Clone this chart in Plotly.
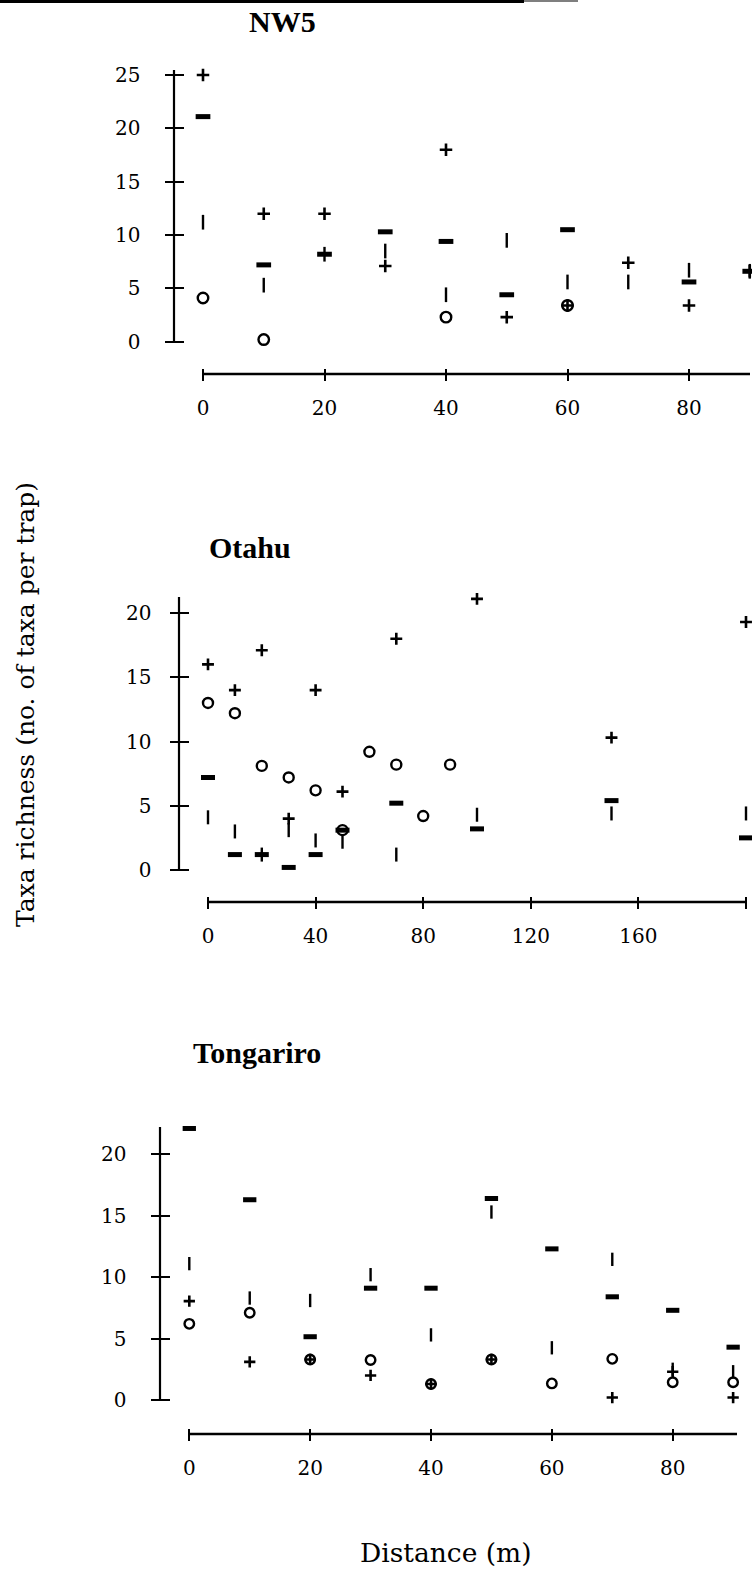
import plotly.graph_objects as go

# ---------------- data ----------------
nw5_x = [0, 10, 20, 30, 40, 50, 60, 70, 80, 90]
nw5_circle = [4.1, 0.2, None, None, 2.3, None, 3.4, None, None, None]
nw5_plus = [25, 12, 12, 7.1, 18, 2.3, 3.4, 7.4, 3.4, 6.6]
nw5_dash = [21.1, 7.2, 8.2, 10.3, 9.4, 4.4, 10.5, None, 5.6, 6.6]
nw5_vbar = [11.2, 5.3, 8.2, 8.5, 4.4, 9.5, 5.6, 5.6, 6.7, 6.6]

ota_x = [0, 10, 20, 30, 40, 50, 60, 70, 80, 90, 100, 150, 200]
ota_circle = [13.0, 12.2, 8.1, 7.2, 6.2, 3.1, 9.2, 8.2, 4.2, 8.2, None, None, None]
ota_plus = [16.0, 14.0, 17.1, 4.0, 14.0, 6.1, None, 18.0, None, None, 21.1, 10.3, 19.3]
ota_dash = [7.2, 1.2, 1.2, 0.2, 1.2, 3.1, None, 5.2, None, None, 3.2, 5.4, 2.5]
ota_vbar = [4.1, 3.0, 1.2, 3.1, 2.3, 2.2, None, 1.2, None, None, 4.3, 4.4, 4.4]

ton_x = [0, 10, 20, 30, 40, 50, 60, 70, 80, 90]
ton_circle = [6.2, 7.1, 3.3, 3.25, 1.3, 3.3, 1.35, 3.35, 1.45, 1.45]
ton_plus = [8.05, 3.1, 3.3, 2.0, 1.3, 3.3, None, 0.2, 2.3, 0.2]
ton_dash = [22.1, 16.3, 5.15, 9.1, 9.1, 16.4, 12.3, 8.4, 7.3, 4.3]
ton_vbar = [11.1, 8.3, 8.1, 10.2, 5.3, 15.3, 4.25, 11.45, 2.5, 2.3]

panel_titles = ["NW5", "Otahu", "Tongariro"]
nw5_xticks = [0, 20, 40, 60, 80]
ota_xticks = [0, 40, 80, 120, 160, 200]
ota_xticktext = ["0", "40", "80", "120", "160", ""]
ton_xticks = [0, 20, 40, 60, 80]
nw5_yticks = [0, 5, 10, 15, 20, 25]
ota_yticks = [0, 5, 10, 15, 20]
ton_yticks = [0, 5, 10, 15, 20]
y_title = "Taxa richness (no. of taxa per trap)"
x_title = "Distance (m)"

W, H = 752, 1574
def px(v): return v / W          # pixel -> paper x
def py(v): return 1 - v / H      # pixel -> paper y

TICKFONT = dict(family="DejaVu Serif", size=20, color="black")
XT_HALF, YT_HALF = 6, 9.5   # half lengths of the crossing tick marks

fig = go.Figure()

def add_series(xs, circ, plus, dash, vbar, xa, ya, scale=1.0):
    common = dict(mode="markers", xaxis=xa, yaxis=ya, showlegend=False,
                  cliponaxis=False, hoverinfo="x+y")
    fig.add_trace(go.Scatter(x=xs, y=circ, marker=dict(symbol="circle-open", size=10*scale,
                  color="black", line=dict(width=2.4, color="black")), **common))
    fig.add_trace(go.Scatter(x=xs, y=plus, marker=dict(symbol="cross-thin", size=8.5*scale,
                  color="black", line=dict(width=2.6, color="black")), **common))
    fig.add_trace(go.Scatter(x=xs, y=dash, marker=dict(symbol="line-ew", size=10*scale,
                  color="black", line=dict(width=5, color="black")), **common))
    fig.add_trace(go.Scatter(x=xs, y=vbar, marker=dict(symbol="line-ns", size=10*scale,
                  color="black", line=dict(width=2.4, color="black")), **common))

panels = [
    dict(xs=nw5_x, c=nw5_circle, p=nw5_plus, d=nw5_dash, v=nw5_vbar,
         xdom=[203, 750], xrange=[0, 90.04], xpos=374,
         ydom=[343, 70], yrange=[-0.122, 25.47], ypos=174,
         xticks=nw5_xticks, xtext=[str(t) for t in nw5_xticks], xstand=10,
         yticks=nw5_yticks, ystand=20, scale=1.05),
    dict(xs=ota_x, c=ota_circle, p=ota_plus, d=ota_dash, v=ota_vbar,
         xdom=[208, 746], xrange=[0, 200], xpos=902,
         ydom=[871, 597], yrange=[-0.078, 21.245], ypos=179,
         xticks=ota_xticks, xtext=ota_xticktext, xstand=10,
         yticks=ota_yticks, ystand=14, scale=1.0),
    dict(xs=ton_x, c=ton_circle, p=ton_plus, d=ton_dash, v=ton_vbar,
         xdom=[189.3, 737], xrange=[0, 90.64], xpos=1434,
         ydom=[1401, 1127], yrange=[-0.081, 22.22], ypos=160,
         xticks=ton_xticks, xtext=[str(t) for t in ton_xticks], xstand=10,
         yticks=ton_yticks, ystand=20, scale=0.95),
]

def aid(n):
    return "" if n == 1 else str(n)

layout = {}
shapes = []
for i, P in enumerate(panels):
    k = i + 1
    xa, ya = "x" + aid(k), "y" + aid(k)
    add_series(P["xs"], P["c"], P["p"], P["d"], P["v"], xa, ya, P["scale"])
    xdom = [px(P["xdom"][0]), min(1.0, px(P["xdom"][1]))]
    ydom = [py(P["ydom"][0]), py(P["ydom"][1])]
    # axis placed half a tick above / right of its drawn line so the ticks cross the line
    layout["xaxis" + aid(k)] = dict(
        domain=xdom, range=P["xrange"], anchor="free", position=py(P["xpos"] - XT_HALF),
        showgrid=False, zeroline=False, showline=False, fixedrange=True, automargin=False,
        tickmode="array", tickvals=P["xticks"], ticktext=P["xtext"],
        ticks="outside", ticklen=2 * XT_HALF, tickwidth=2, tickcolor="black",
        tickfont=TICKFONT, ticklabelstandoff=P["xstand"])
    layout["yaxis" + aid(k)] = dict(
        domain=ydom, range=P["yrange"], anchor="free", position=px(P["ypos"] + YT_HALF),
        showgrid=False, zeroline=False, showline=False, fixedrange=True, automargin=False,
        tickmode="array", tickvals=P["yticks"], ticktext=[str(t) for t in P["yticks"]],
        ticks="outside", ticklen=2 * YT_HALF, tickwidth=2, tickcolor="black",
        tickfont=TICKFONT, ticklabelstandoff=P["ystand"])
    # the axis lines themselves
    shapes.append(dict(type="line", xref=f"{xa} domain", yref="paper", x0=0, x1=1,
                       y0=py(P["xpos"]), y1=py(P["xpos"]),
                       line=dict(color="black", width=2.6), layer="below"))
    shapes.append(dict(type="line", xref="paper", yref=f"{ya} domain", y0=0, y1=1,
                       x0=px(P["ypos"]), x1=px(P["ypos"]),
                       line=dict(color="black", width=2.2), layer="below"))

annotations = [
    dict(text="<b>NW5</b>", x=px(282), y=py(22)),
    dict(text="<b>Otahu</b>", x=px(250), y=py(548)),
    dict(text="<b>Tongariro</b>", x=px(257), y=py(1052)),
]
for an in annotations:
    an.update(xref="paper", yref="paper", showarrow=False, xanchor="center", yanchor="middle",
              font=dict(family="Liberation Serif", size=30, color="black"))
annotations.append(dict(text=y_title, x=px(25), y=py(705), xref="paper", yref="paper",
                        showarrow=False, textangle=-90, xanchor="center", yanchor="middle",
                        font=dict(family="DejaVu Serif", size=25, color="black")))
annotations.append(dict(text=x_title, x=px(446), y=py(1552), xref="paper", yref="paper",
                        showarrow=False, xanchor="center", yanchor="middle",
                        font=dict(family="DejaVu Serif", size=26.5, color="black")))

# scan edge line along the top of the page
shapes += [
    dict(type="line", xref="paper", yref="paper", x0=0, x1=px(524), y0=py(1.5), y1=py(1.5),
         line=dict(color="black", width=3)),
    dict(type="line", xref="paper", yref="paper", x0=px(524), x1=px(578), y0=py(1), y1=py(1),
         line=dict(color="black", width=1.2)),
]

fig.update_layout(width=W, height=H, margin=dict(l=0, r=0, t=0, b=0, pad=0),
                  paper_bgcolor="white", plot_bgcolor="rgba(0,0,0,0)",
                  annotations=annotations, shapes=shapes, **layout)

fig.write_html("out.html")
